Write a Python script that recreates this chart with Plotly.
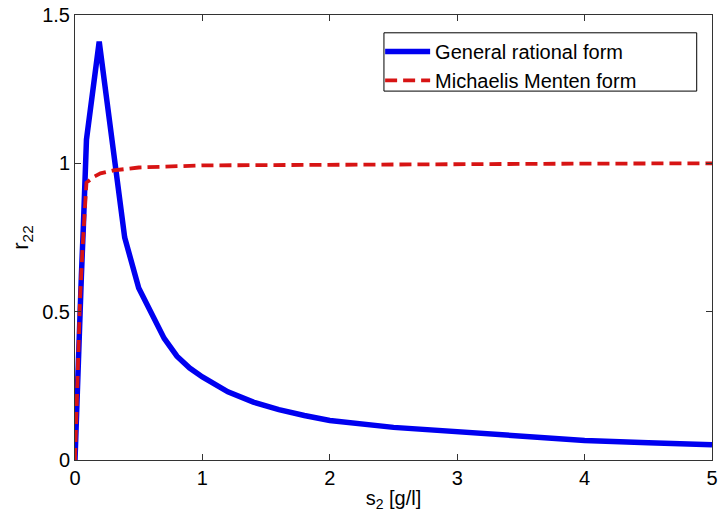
import plotly.graph_objects as go

# General rational form
s_general = [0, 0.015, 0.03, 0.05, 0.065, 0.08, 0.09, 0.19, 0.39, 0.5, 0.6, 0.7, 0.8, 0.9,
             1.0, 1.2, 1.4, 1.6, 1.8, 2.0, 2.5, 3.0, 3.5, 4.0, 4.5, 5.0]
r_general = [0, 0.22, 0.43, 0.62, 0.78, 0.95, 1.08, 1.41, 0.75, 0.58, 0.49, 0.41, 0.35, 0.31,
             0.28, 0.23, 0.195, 0.17, 0.15, 0.133, 0.11, 0.094, 0.08, 0.066, 0.058, 0.051]

# Michaelis Menten form
s_mm = [0, 0.02, 0.04, 0.06, 0.08, 0.09, 0.15, 0.2, 0.3, 0.5, 1.0, 2.0, 3.0, 4.0, 5.0]
r_mm = [0, 0.3, 0.55, 0.72, 0.88, 0.935, 0.955, 0.966, 0.976, 0.986, 0.993, 0.996, 0.998, 0.999, 1.0]

x_ticks = [0, 1, 2, 3, 4, 5]
y_ticks = [0, 0.5, 1, 1.5]
y_labels = ['0', '0.5', '1', '1.5']

fig = go.Figure()

fig.add_trace(go.Scatter(
    x=s_general, y=r_general,
    mode='lines',
    name='General rational form',
    line=dict(color='rgb(0,0,240)', width=5.5)
))

fig.add_trace(go.Scatter(
    x=s_mm, y=r_mm,
    mode='lines',
    name='Michaelis Menten form',
    line=dict(color='rgb(215,20,20)', width=3.8, dash='12px,6px')
))

axis_style = dict(
    showgrid=False,
    zeroline=False,
    showline=True,
    linecolor='#333333',
    linewidth=1,
    mirror='ticks',
    ticks='inside',
    ticklen=6,
    tickcolor='#333333',
    tickfont=dict(size=20, color='black'),
    ticklabeloverflow='allow',
)

# MATLAB-style legend box, wider than the entries
fig.add_shape(
    type='rect', xref='paper', yref='paper',
    x0=0.485, x1=0.976, y0=0.829, y1=0.960,
    line=dict(color='black', width=1), fillcolor='white', layer='above'
)

# the page body adds 8px around the figure, so the figure is drawn 8px smaller
fig.update_layout(
    width=711,
    height=504,
    margin=dict(l=67, r=7, t=7, b=52, autoexpand=False),
    paper_bgcolor='white',
    plot_bgcolor='white',
    font=dict(family='Liberation Sans, Arial, sans-serif', color='black'),
    xaxis=dict(range=[0, 5], tickvals=x_ticks,
               title=dict(text='s<sub>2</sub> [g/l]', font=dict(size=20), standoff=6),
               **axis_style),
    yaxis=dict(range=[0, 1.5], tickvals=y_ticks, ticktext=y_labels,
               title=dict(text='r<sub>22</sub>', font=dict(size=22), standoff=10),
               **axis_style),
    legend=dict(
        x=0.479, y=0.962, xanchor='left', yanchor='top',
        bgcolor='rgba(0,0,0,0)', borderwidth=0,
        font=dict(size=20),
        itemwidth=45,
        tracegroupgap=0,
    ),
)

fig.write_html("out.html")
